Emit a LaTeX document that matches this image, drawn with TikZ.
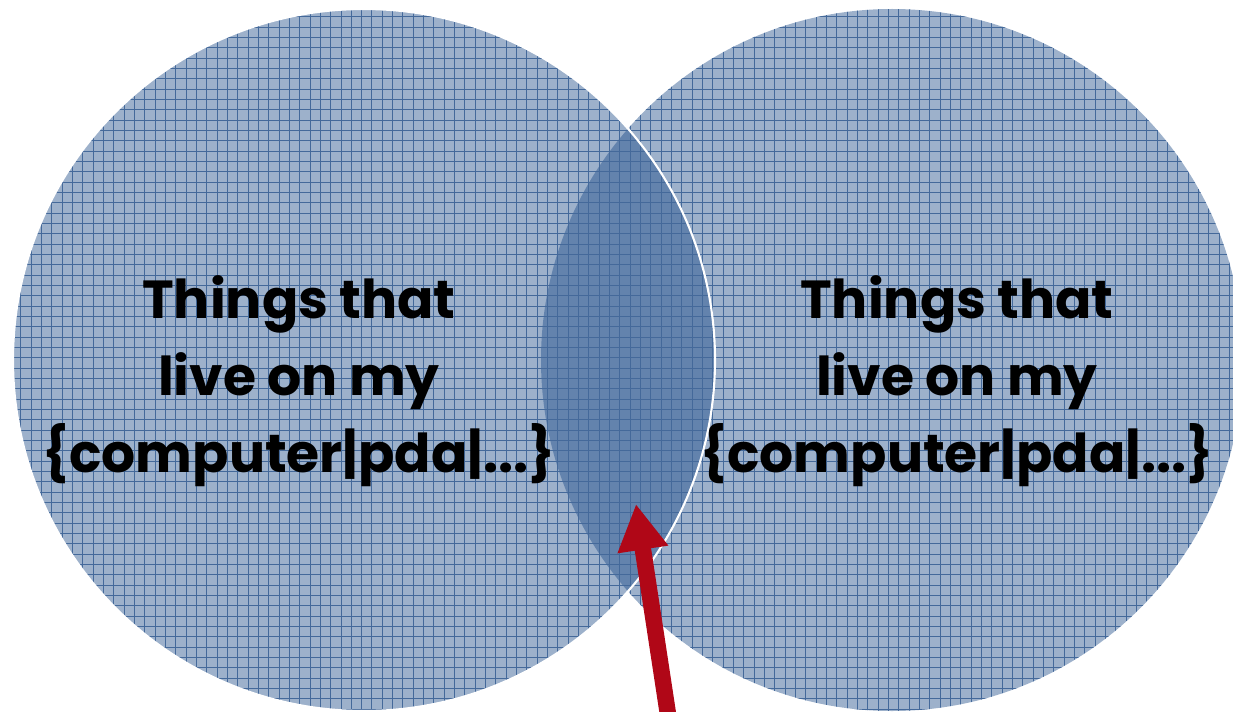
\documentclass[tikz,border=0pt]{standalone}
\usepackage{fontspec}
\setmainfont{Poppins}
\usetikzlibrary{arrows.meta}

\begin{document}
\begin{tikzpicture}[x=0.02cm, y=0.02cm]
    % Define styles and colours
    \tikzset{
        setfill/.style={fill=setblue},
        gridline/.style={draw=gridblue, line width=0.45pt},
        setlabel/.style={font=\bfseries\fontsize{30.5}{43.8}\selectfont, align=center, text=black, inner sep=0pt},
        redarrow/.style={draw=arrowred, line width=0.33cm, -{Triangle[width=0.96cm, length=0.92cm]}}
    }
    \definecolor{setblue}{HTML}{9DB1CB}
    \definecolor{lensblue}{HTML}{6383AD}
    \definecolor{gridblue}{HTML}{44699A}
    \definecolor{arrowred}{HTML}{B00717}

    \useasboundingbox (0,0) rectangle (1233,711);
    \coordinate (leftc) at (364,351);
    \coordinate (rightc) at (892,351);

    % ==========================================
    % SET DISCS
    % ==========================================
    \fill[setfill] (rightc) circle[radius=351];
    \fill[setfill] (leftc) circle[radius=351];
    % Darker lens where the two sets overlap
    \begin{scope}
        \clip (leftc) circle[radius=351];
        \fill[lensblue] (rightc) circle[radius=351];
    \end{scope}

    % ==========================================
    % GRID PATTERN
    % ==========================================
    \begin{scope}
        \clip (leftc) circle[radius=351] (rightc) circle[radius=351];
        \foreach \x in {0, 10.33, ..., 1250} { \draw[gridline] (\x,0) -- (\x,711); }
        \foreach \y in {2, 12.33, ..., 720} { \draw[gridline] (0,\y) -- (1250,\y); }
    \end{scope}

    % White rim of the left set
    \draw[white, line width=1.2pt] (leftc) circle[radius=351];

    % ==========================================
    % LABELS
    % ==========================================
    \node[setlabel] (lefttext) at (299,330) {Things that\\live on my\\\{computer|pda|...\}};
    \node[setlabel] (righttext) at (957,330) {Things that\\live on my\\\{computer|pda|...\}};

    % ==========================================
    % ARROW INTO THE OVERLAP
    % ==========================================
    \coordinate (arrowtail) at (669,-10);
    \coordinate (arrowtip) at (636,207);
    \draw[redarrow] (arrowtail) -- (arrowtip);

\end{tikzpicture}
\end{document}
